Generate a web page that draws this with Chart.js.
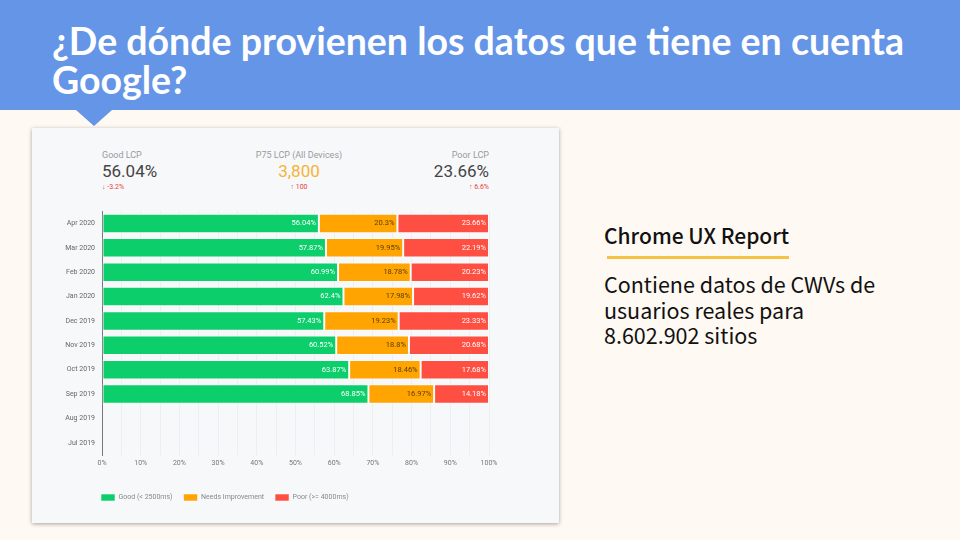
<!DOCTYPE html>
<html>
<head>
<meta charset="utf-8">
<script src="https://cdn.jsdelivr.net/npm/chart.js@4.4.0/dist/chart.umd.min.js"></script>
<style>
  html, body { margin: 0; padding: 0; }
  body { width: 960px; height: 540px; background: #fff9f3; position: relative; overflow: hidden; font-family: Roboto, sans-serif; }
  .band { position: absolute; left: 0; top: 0; width: 960px; height: 110px; background: #6495e6; }
  .pointer { position: absolute; left: 76px; top: 110px; width: 0; height: 0;
    border-left: 18px solid transparent; border-right: 18px solid transparent; border-top: 16px solid #6495e6; }
  h1 { position: absolute; left: 52px; top: 21px; margin: 0; width: 880px; color: #fff;
    font-family: Lato, sans-serif; font-weight: 700; font-size: 37.5px; line-height: 39px; }
  .card { position: absolute; left: 32px; top: 128px; width: 527px; height: 395px; background: #f7f8fa;
    box-shadow: 0 1px 4px rgba(0,0,0,0.35); }
  .stat { position: absolute; top: 22px; font-family: Roboto, sans-serif; }
  .stat .k { font-size: 9px; color: #9a9a9a; }
  .stat .v { font-size: 17px; color: #444; margin-top: 1px; }
  .stat .d { font-size: 7px; color: #e8413b; margin-top: 2px; }
  #wrap { position: absolute; left: 0; top: 72px; width: 527px; height: 320px; }
  .side { position: absolute; left: 604px; top: 221px; font-family: "Noto Sans CJK KR", "Noto Sans", sans-serif; color: #111; }
  .side h2 { margin: 0; font-weight: 500; font-size: 21px; line-height: 28px; }
  .side .rule { width: 182px; height: 3px; background: #f4c344; margin: 7px 0 0 3px; }
  .side p { margin: 12px 0 0 0; font-size: 21.5px; line-height: 25.5px; width: 290px; }
</style>
</head>
<body>
<div class="band"></div>
<div class="pointer"></div>
<h1>¿De dónde provienen los datos que tiene en cuenta Google?</h1>

<div class="card">
  <div class="stat" style="left:70px;">
    <div class="k">Good LCP</div>
    <div class="v">56.04%</div>
    <div class="d">&#8595; -3.2%</div>
  </div>
  <div class="stat" style="left:167px; width:200px; text-align:center;">
    <div class="k">P75 LCP (All Devices)</div>
    <div class="v" style="color:#f5b335;">3,800</div>
    <div class="d">&#8593; 100</div>
  </div>
  <div class="stat" style="right:70px; text-align:right;">
    <div class="k">Poor LCP</div>
    <div class="v">23.66%</div>
    <div class="d">&#8593; 6.6%</div>
  </div>
  <div id="wrap"><canvas id="lcp-chart"></canvas></div>
</div>

<div class="side">
  <h2>Chrome UX Report</h2>
  <div class="rule"></div>
  <p>Contiene datos de CWVs de usuarios reales para 8.602.902 sitios</p>
</div>

<script>
const months = ['Apr 2020', 'Mar 2020', 'Feb 2020', 'Jan 2020', 'Dec 2019', 'Nov 2019', 'Oct 2019', 'Sep 2019', 'Aug 2019', 'Jul 2019'];
const goodLcp = [56.04, 57.87, 60.99, 62.4, 57.43, 60.52, 63.87, 68.85, null, null];
const needsLcp = [20.3, 19.95, 18.78, 17.98, 19.23, 18.8, 18.46, 16.97, null, null];
const poorLcp = [23.66, 22.19, 20.23, 19.62, 23.33, 20.68, 17.68, 14.18, null, null];
const seriesNames = ['Good (< 2500ms)', 'Needs Improvement', 'Poor (>= 4000ms)'];

document.addEventListener('DOMContentLoaded', function() {
    // value labels drawn at the right end of every segment
    const segmentLabels = {
        id: 'segmentLabels',
        afterDatasetsDraw(chart) {
            const ctx = chart.ctx;
            ctx.save();
            ctx.font = '7.5px Roboto, sans-serif';
            ctx.textAlign = 'right';
            ctx.textBaseline = 'middle';
            chart.data.datasets.forEach((ds, i) => {
                chart.getDatasetMeta(i).data.forEach((bar, j) => {
                    const v = ds.data[j];
                    if (v == null) return;
                    ctx.fillStyle = ds.labelColor;
                    ctx.fillText(v + '%', bar.x - 3, bar.y);
                });
            });
            ctx.restore();
        }
    };

    // pull the legend back so its first box lines up with the axis
    const legendShift = {
        id: 'legendShift',
        afterLayout(chart) {
            chart.legend.left -= 12;
            chart.legend.right -= 12;
        }
    };

    const ctx = document.getElementById('lcp-chart').getContext('2d');
    new Chart(ctx, {
        type: 'bar',
        data: {
            labels: months,
            datasets: [
                { label: seriesNames[0], data: goodLcp, backgroundColor: '#0cce6b', labelColor: '#ffffff' },
                { label: seriesNames[1], data: needsLcp, backgroundColor: '#ffa400', labelColor: '#5b4100' },
                { label: seriesNames[2], data: poorLcp, backgroundColor: '#ff4e42', labelColor: '#ffffff' }
            ]
        },
        options: {
            indexAxis: 'y',
            responsive: true,
            maintainAspectRatio: false,
            animation: false,
            datasets: {
                bar: {
                    categoryPercentage: 1,
                    barPercentage: 0.8,
                    borderWidth: 1,
                    borderSkipped: false,
                    borderColor: 'rgba(255, 255, 255, 0.55)'
                }
            },
            layout: { padding: { top: 8, right: 70, bottom: 9, left: 0 } },
            scales: {
                x: {
                    stacked: true,
                    min: 0,
                    max: 100,
                    border: { display: false },
                    grid: { color: '#eceef1', drawTicks: false },
                    ticks: {
                        stepSize: 5,
                        autoSkip: false,
                        maxRotation: 0,
                        padding: 4,
                        color: '#777',
                        font: { size: 7, family: 'Roboto' },
                        callback: v => (v % 10 === 0 ? v + '%' : '')
                    },
                    afterFit: axis => { axis.height = 28; }
                },
                y: {
                    stacked: true,
                    border: { display: true, color: '#777', width: 1 },
                    grid: { display: false, drawTicks: false },
                    ticks: { color: '#666', font: { size: 7, family: 'Roboto' }, padding: 7 },
                    afterFit: axis => { axis.width = 70; }
                }
            },
            plugins: {
                legend: {
                    position: 'bottom',
                    align: 'start',
                    fullSize: false,
                    labels: {
                        boxWidth: 14,
                        boxHeight: 7,
                        padding: 11,
                        color: '#888',
                        font: { size: 7, family: 'Roboto' }
                    }
                },
                tooltip: { enabled: false }
            }
        },
        plugins: [segmentLabels, legendShift]
    });
});
</script>
</body>
</html>
